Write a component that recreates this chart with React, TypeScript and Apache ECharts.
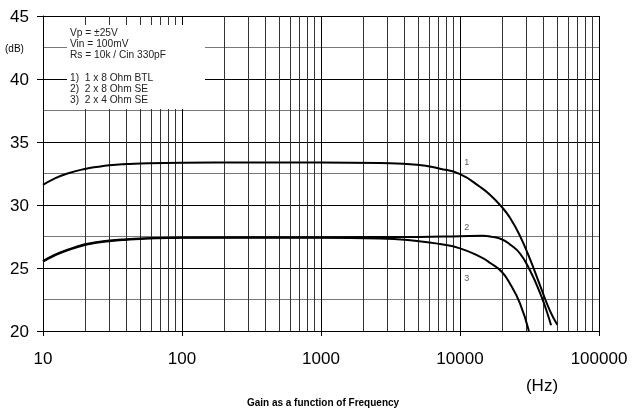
import React, { useEffect, useRef } from "react";
import * as echarts from "echarts";

const freq1 = [10, 12, 15, 20, 25, 30, 40, 50, 100, 300, 1000, 2650, 4900, 7180, 10000, 13900, 16500, 19950, 23000, 27000, 31900, 37700, 44400, 50100];
const gain1 = [31.6, 32.08, 32.5, 32.86, 33.04, 33.15, 33.25, 33.3, 33.36, 33.38, 33.38, 33.33, 33.2, 32.88, 32.45, 31.45, 30.8, 29.85, 28.95, 27.55, 25.7, 23.6, 21.6, 20.5];

const freq2 = [10, 12, 15, 20, 25, 30, 40, 50, 100, 1000, 5000, 10000, 14500, 17000, 19950, 23000, 27000, 31900, 37700, 42100, 45200];
const gain2 = [25.55, 26.02, 26.45, 26.88, 27.06, 27.18, 27.29, 27.35, 27.43, 27.45, 27.47, 27.52, 27.55, 27.47, 27.28, 26.85, 26.15, 24.8, 23.0, 21.55, 20.45];

const freq3 = [10, 12, 15, 20, 25, 30, 40, 50, 100, 1000, 2650, 4900, 7180, 10000, 13900, 16500, 19950, 22900, 27000, 31300];
const gain3 = [25.5, 25.97, 26.4, 26.83, 27.02, 27.13, 27.24, 27.3, 27.4, 27.4, 27.35, 27.15, 26.9, 26.56, 25.9, 25.4, 24.7, 23.75, 22.2, 20.0];

const curveNames = ["1", "2", "3"];
const curveLabelFreq = [11200, 11200, 11200];
const curveLabelGain = [33.4, 28.25, 24.2];

const legendLines = [
  "Vp = \u00b125V",
  "Vin = 100mV",
  "Rs = 10k / Cin 330pF",
  "",
  "1)  1 x 8 Ohm BTL",
  "2)  2 x 8 Ohm SE",
  "3)  2 x 4 Ohm SE",
];

const decades = [10, 100, 1000, 10000];
const minorFreqs: number[] = [];
decades.forEach((d) => {
  for (let m = 2; m <= 9; m++) minorFreqs.push(m * d);
});

const FONT = "'Liberation Sans', Arial, sans-serif";

export default function App() {
  const ref = useRef<HTMLDivElement>(null);
  useEffect(() => {
    if (!ref.current) return;
    const chart = echarts.init(ref.current, undefined, { renderer: "svg" });
    const zip = (f: number[], g: number[]) => f.map((v, i) => [v, g[i]]);
    const lineCommon = {
      type: "line",
      showSymbol: false,
      smooth: 0.5,
      lineStyle: { color: "#000", width: 2 },
      z: 5,
    };
    chart.setOption({
      animation: false,
      textStyle: { fontFamily: FONT },
      grid: { left: 43, right: 33, top: 16, bottom: 79, containLabel: false },
      xAxis: {
        type: "log",
        logBase: 10,
        min: 10,
        max: 100000,
        axisLine: { show: true, onZero: false, lineStyle: { color: "#000", width: 1 } },
        axisTick: { show: true, length: 5, lineStyle: { color: "#000" } },
        axisLabel: {
          fontSize: 17,
          color: "#000",
          margin: 19,
          fontFamily: FONT,
          formatter: (v: number) => String(Math.round(v)),
        },
        splitLine: { show: true, lineStyle: { color: "#000", width: 1 } },
        minorTick: { show: false },
        minorSplitLine: { show: false },
      },
      yAxis: {
        type: "value",
        min: 20,
        max: 45,
        interval: 5,
        axisLine: { show: true, onZero: false, lineStyle: { color: "#000", width: 1 } },
        axisTick: { show: true, length: 6, lineStyle: { color: "#000" } },
        axisLabel: { fontSize: 17, color: "#000", margin: 14, fontFamily: FONT },
        splitLine: { show: true, lineStyle: { color: "#000", width: 1 } },
        minorTick: { show: false, splitNumber: 2 },
        minorSplitLine: { show: true, lineStyle: { color: "#777", width: 1 } },
      },
      series: [
        {
          type: "line",
          data: [],
          silent: true,
          markLine: {
            silent: true,
            symbol: "none",
            animation: false,
            label: { show: false },
            lineStyle: { color: "#333", width: 1, type: "solid" },
            data: minorFreqs.map((f) => ({ xAxis: f })),
          },
          z: 1,
        },
        { ...lineCommon, name: curveNames[0], data: zip(freq1, gain1) },
        { ...lineCommon, name: curveNames[1], data: zip(freq2, gain2) },
        { ...lineCommon, name: curveNames[2], data: zip(freq3, gain3) },
        {
          type: "scatter",
          symbolSize: 0,
          silent: true,
          data: curveNames.map((n, i) => [curveLabelFreq[i], curveLabelGain[i], n]),
          label: {
            show: true,
            position: "inside",
            formatter: (p: any) => p.value[2],
            fontSize: 9,
            color: "#333",
            fontFamily: FONT,
          },
          z: 6,
        },
      ],
      graphic: [
        {
          type: "rect",
          z: 100,
          shape: { x: 67, y: 25, width: 138, height: 84 },
          style: { fill: "#fff" },
        },
        {
          type: "text",
          z: 101,
          x: 70,
          y: 26.5,
          style: {
            text: legendLines.join("\n"),
            fontSize: 10.2,
            lineHeight: 11.3,
            fill: "#222",
            fontFamily: FONT,
          },
        },
        {
          type: "text",
          z: 101,
          x: 5,
          y: 48,
          style: { text: "(dB)", fontSize: 10, fill: "#000", fontFamily: FONT, verticalAlign: "middle" },
        },
        {
          type: "text",
          z: 101,
          x: 542,
          y: 385,
          style: { text: "(Hz)", fontSize: 17, fill: "#000", fontFamily: FONT, align: "center", verticalAlign: "middle" },
        },
        {
          type: "text",
          z: 101,
          x: 323,
          y: 402,
          style: {
            text: "Gain as a function of Frequency",
            fontSize: 10,
            fontWeight: "bold",
            fill: "#000",
            fontFamily: FONT,
            align: "center",
            verticalAlign: "middle",
          },
        },
      ],
    });
    return () => chart.dispose();
  }, []);
  return <div ref={ref} style={{ position: "fixed", left: 0, top: 0, width: 632, height: 410 }} />;
}
